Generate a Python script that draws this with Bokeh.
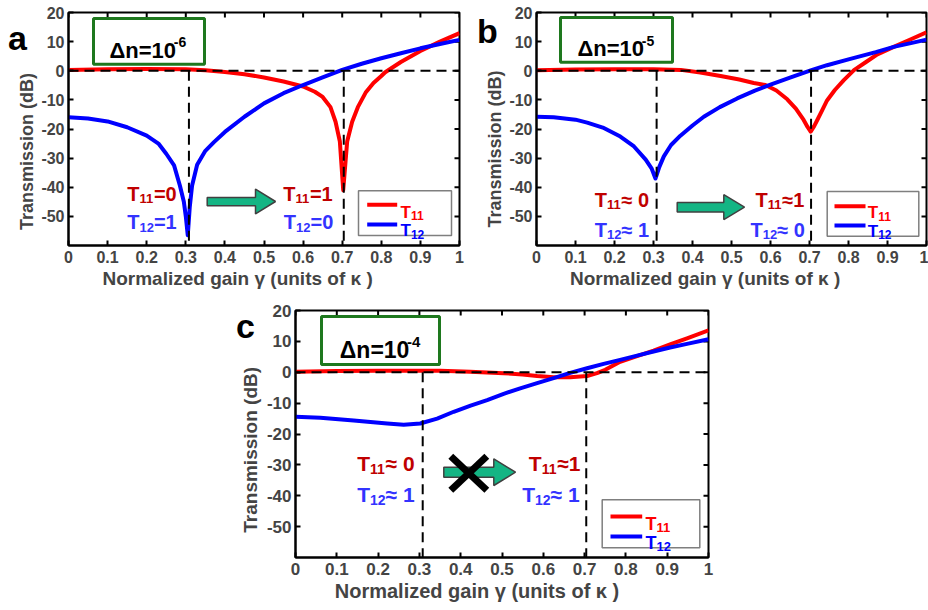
from bokeh.plotting import figure
from bokeh.models import Label, BoxAnnotation, Span, FixedTicker, Range1d, Spacer, Div
from bokeh.layouts import row, column
from bokeh.embed import file_html
from bokeh.resources import INLINE

FONT = "Liberation Sans"

# ------------------------------------------------------------------ data
x_ticks = [0.0, 0.1, 0.2, 0.3, 0.4, 0.5, 0.6, 0.7, 0.8, 0.9, 1.0]
x_tick_labels = ["0", "0.1", "0.2", "0.3", "0.4", "0.5", "0.6", "0.7", "0.8", "0.9", "1"]
y_ticks = [-50, -40, -30, -20, -10, 0, 10, 20]
y_tick_labels = ["-50", "-40", "-30", "-20", "-10", "0", "10", "20"]
marker_gammas = [0.308, 0.704]

# panel a : dn = 1e-6
a_t11_g = [0, 0.1, 0.2, 0.3, 0.35, 0.4, 0.45, 0.5, 0.55, 0.6, 0.63, 0.65, 0.67, 0.683, 0.694,
           0.7026, 0.7127, 0.7255, 0.74, 0.76, 0.78, 0.8, 0.81, 0.85, 0.9, 0.95, 1.0]
a_t11_db = [0.3, 0.5, 0.6, 0.5, 0.2, -0.4, -1.2, -2.3, -3.7, -5.4, -7.2, -9.0, -12.5, -17.5, -24.3,
            -41.0, -24.3, -17.5, -12.5, -7.5, -4.2, -1.8, -0.5, 3.0, 6.8, 10.0, 12.9]
a_t12_g = [0, 0.05, 0.1, 0.15, 0.2, 0.23, 0.25, 0.27, 0.285, 0.295, 0.3, 0.305, 0.31, 0.316,
           0.329, 0.35, 0.372, 0.4, 0.45, 0.5, 0.55, 0.6, 0.65, 0.7, 0.75, 0.8,
           0.85, 0.9, 0.95, 1.0]
a_t12_db = [-16.0, -16.4, -17.4, -19.4, -22.3, -25.0, -28.5, -32.5, -39.5, -45.0, -50.0, -56.5,
            -47.0, -39.5, -32.3, -27.5, -24.5, -21.0, -15.8, -11.2, -7.7, -4.9,
            -2.3, 0.3, 2.4, 4.3, 6.0, 7.7, 9.2, 10.6]

# panel b : dn = 1e-5
b_t11_g = [0, 0.1, 0.2, 0.3, 0.37, 0.42, 0.472, 0.52, 0.557, 0.587, 0.615, 0.643, 0.665, 0.685,
           0.695, 0.703, 0.712, 0.72, 0.733, 0.745, 0.765, 0.788, 0.814, 0.845, 0.874, 0.916,
           0.96, 1.0]
b_t11_db = [0.2, 0.4, 0.5, 0.5, 0.3, -0.6, -1.8, -3.0, -4.2, -4.9, -6.8, -9.8, -13.0, -16.9,
            -19.3, -20.9, -19.0, -16.9, -13.4, -10.2, -6.6, -3.2, 0.2, 3.0, 5.6, 8.2, 10.8, 13.2]
b_t12_g = [0, 0.044, 0.1, 0.13, 0.17, 0.215, 0.25, 0.28, 0.295, 0.305, 0.315, 0.3265, 0.345,
           0.369, 0.4, 0.429, 0.47, 0.5146, 0.56, 0.6, 0.65, 0.703, 0.745, 0.8, 0.87, 0.916,
           0.96, 1.0]
b_t12_db = [-15.8, -16.0, -16.8, -17.8, -19.5, -22.6, -26.0, -30.5, -33.5, -37.0, -33.0, -29.4,
            -25.5, -22.3, -18.8, -15.8, -12.5, -9.5, -6.8, -4.8, -2.4, 0.1, 1.9, 3.9, 6.4, 8.2,
            9.5, 10.7]

# panel c : dn = 1e-4
c_t11_g = [0, 0.1, 0.2, 0.3, 0.35, 0.423, 0.504, 0.55, 0.585, 0.625, 0.665, 0.706, 0.73, 0.75,
           0.786, 0.827, 0.867, 0.907, 0.948, 1.0]
c_t11_db = [0.2, 0.4, 0.5, 0.5, 0.5, 0.2, -0.3, -0.7, -1.2, -1.6, -1.6, -1.2, -0.3, 0.8, 3.4,
            5.2, 7.0, 9.0, 11.0, 13.6]
c_t12_g = [0, 0.06, 0.141, 0.222, 0.262, 0.302, 0.343, 0.383, 0.424, 0.464, 0.504, 0.544, 0.585,
           0.625, 0.665, 0.706, 0.746, 0.786, 0.827, 0.867, 0.907, 0.948, 1.0]
c_t12_db = [-14.4, -14.7, -15.6, -16.6, -17.0, -16.6, -15.0, -12.8, -10.8, -9.0, -7.0, -5.2,
            -3.5, -1.9, -0.2, 1.3, 2.7, 4.0, 5.4, 6.7, 8.0, 9.2, 10.7]

X_LABEL = "Normalized gain \u03b3 (units of \u03ba )"
Y_LABEL = "Transmission (dB)"

X0, X1, Y0, Y1 = 0.0, 1.0, -60.0, 20.0

RED, BLUE = "#FF0000", "#0000FF"
RED_TXT, BLUE_TXT = "#C00000", "#3333FF"
GREEN_BOX = "#1E781E"
ARROW_FILL = "#14B584"
NBSP = "\u00a0"

# page-pixel geometry of each panel: figure origin, figure size, frame box
GEOM = {
    "a": dict(origin=(0, 0), size=(470, 300), frame=(68, 11, 391, 234)),
    "b": dict(origin=(470, 0), size=(458, 300), frame=(536, 12, 390, 234)),
    "c": dict(origin=(220, 300), size=(500, 310), frame=(295, 310, 413, 247)),
}

WID = {"T": 0.611, "0": 0.556, "1": 0.556, "2": 0.556, "4": 0.556, "5": 0.556, "6": 0.556,
       "=": 0.584, "\u2248": 0.584, " ": 0.278, "-": 0.333, "\u0394": 0.612, "n": 0.611}


def tw(s, size):
    return sum(WID.get(ch, 0.556) for ch in s) * size


def conv(g, px, py):
    fl, ft, fw, fh = g["frame"]
    return X0 + (px - fl) / fw * (X1 - X0), Y1 - (py - ft) / fh * (Y1 - Y0)


def label(p, g, px, py, text, size, color):
    x, y = conv(g, px, py)
    p.add_layout(Label(x=x, y=y, text=text, text_font=FONT, text_font_style="bold",
                       text_font_size=f"{size}px", text_color=color, text_align="left",
                       text_baseline="alphabetic"))


def sub_text(p, g, px, py, main, sub, rest, size, subsize, color, drop):
    label(p, g, px, py, main, size, color)
    x2 = px + tw(main, size)
    label(p, g, x2, py + drop, sub, subsize, color)
    if rest:
        label(p, g, x2 + tw(sub, subsize), py, rest, size, color)


def shifted(text, shift_px, size_px):
    # pad with trailing no-break spaces so the centred label sits shift_px off centre
    n = int(round(2 * shift_px / (0.278 * size_px)))
    return text + NBSP * n


def style_axis(ax, ticks, labels, fs):
    ax.ticker = FixedTicker(ticks=ticks)
    ax.major_label_overrides = {t: l for t, l in zip(ticks, labels)}
    ax.minor_tick_line_color = None
    ax.major_tick_in = 5
    ax.major_tick_out = 0
    ax.major_tick_line_width = 2
    ax.axis_line_width = 2
    ax.major_label_text_font = FONT
    ax.major_label_text_font_style = "bold"
    ax.major_label_text_font_size = fs


def make_panel(key, t11g, t11d, t12g, t12d, fs_tick, fs_xlab, fs_ylab, ylab_standoff,
               xshift, yshift, fs_txt, fs_sub, texts, legend, box, dn_text, dn_sup, dn_pos,
               arrow):
    g = GEOM[key]
    ox, oy = g["origin"]
    W, H = g["size"]
    fl, ft, fw, fh = g["frame"]
    p = figure(width=W, height=H, x_range=Range1d(X0, X1), y_range=Range1d(Y0, Y1),
               output_backend="svg", toolbar_location=None,
               min_border_left=fl - ox, min_border_top=ft - oy,
               min_border_right=W - (fl - ox) - fw, min_border_bottom=H - (ft - oy) - fh)
    p.xgrid.visible = False
    p.ygrid.visible = False
    p.outline_line_color = "black"
    p.outline_line_width = 2
    p.background_fill_color = "white"
    p.border_fill_color = "white"

    style_axis(p.xaxis[0], x_ticks, x_tick_labels, fs_tick)
    style_axis(p.yaxis[0], y_ticks, y_tick_labels, fs_tick)
    p.xaxis[0].major_label_standoff = 5
    p.yaxis[0].major_label_standoff = 4
    p.xaxis[0].axis_label = shifted(X_LABEL, xshift, fs_xlab)
    p.yaxis[0].axis_label = shifted(Y_LABEL, yshift, fs_ylab)
    for ax, fs in ((p.xaxis[0], fs_xlab), (p.yaxis[0], fs_ylab)):
        ax.axis_label_text_font = FONT
        ax.axis_label_text_font_style = "bold"
        ax.axis_label_text_font_size = f"{fs}px"
    p.xaxis[0].axis_label_standoff = 2
    p.yaxis[0].axis_label_standoff = ylab_standoff

    # inward ticks on the top and right sides of the box
    tlen_y = 5.0 / fh * (Y1 - Y0)
    tlen_x = 5.0 / fw * (X1 - X0)
    p.segment(x0=x_ticks, y0=[Y1] * len(x_ticks), x1=x_ticks, y1=[Y1 - tlen_y] * len(x_ticks),
              line_color="black", line_width=2)
    p.segment(x0=[X1] * len(y_ticks), y0=y_ticks, x1=[X1 - tlen_x] * len(y_ticks), y1=y_ticks,
              line_color="black", line_width=2)

    # curves
    p.line(t11g, t11d, line_color=RED, line_width=4, line_join="round")
    p.line(t12g, t12d, line_color=BLUE, line_width=4, line_join="round")

    # guide lines
    p.add_layout(Span(location=0, dimension="width", line_color="black", line_width=2,
                      line_dash="10 6"))
    p.segment(x0=marker_gammas, y0=[0, 0], x1=marker_gammas, y1=[Y0, Y0], line_color="black",
              line_width=2, line_dash="10 6")

    # dn box
    (bl, bt, br, bb) = box
    xl, yt = conv(g, bl, bt)
    xr, yb = conv(g, br, bb)
    p.add_layout(BoxAnnotation(left=xl, right=xr, top=yt, bottom=yb, fill_alpha=0,
                               line_color=GREEN_BOX, line_alpha=1.0, line_width=3))
    dx, dy, dfs, dsfs = dn_pos
    label(p, g, dx, dy, dn_text, dfs, "black")
    label(p, g, dx + tw(dn_text, dfs), dy - 0.36 * dfs, dn_sup, dsfs, "black")

    # state texts
    for (tx, ty, sub, rest, col) in texts:
        sub_text(p, g, tx, ty, "T", sub, rest, fs_txt, fs_sub, col, 5)

    # legend
    (lb, lx0, lx1, ly_r, ly_b, ltx, lty_r, lty_b, lfs, lsfs) = legend
    xl, yt = conv(g, lb[0], lb[1])
    xr, yb = conv(g, lb[2], lb[3])
    p.add_layout(BoxAnnotation(left=xl, right=xr, top=yt, bottom=yb, fill_alpha=0,
                               line_color="#7F7F7F", line_alpha=1.0, line_width=1.5))
    for ly, col in ((ly_r, RED), (ly_b, BLUE)):
        a0, b0 = conv(g, lx0, ly)
        a1, _ = conv(g, lx1, ly)
        p.segment(x0=[a0], y0=[b0], x1=[a1], y1=[b0], line_color=col, line_width=4)
    sub_text(p, g, ltx, lty_r, "T", "11", "", lfs, lsfs, RED, 3.5)
    sub_text(p, g, ltx, lty_b, "T", "12", "", lfs, lsfs, BLUE, 3.5)

    # block arrow
    (s0, s1, st, sb, ht, hb, tip) = arrow
    pts = [(s0, st), (s1, st), (s1, ht), (tip, (ht + hb) / 2), (s1, hb), (s1, sb), (s0, sb)]
    cx = [conv(g, a, b)[0] for a, b in pts]
    cy = [conv(g, a, b)[1] for a, b in pts]
    p.patch(cx, cy, fill_color=ARROW_FILL, line_color="#404040", line_width=1.5)
    return p, g


pa, ga = make_panel(
    "a", a_t11_g, a_t11_db, a_t12_g, a_t12_db, "16px", 19, 18, 1, 26, 22, 20, 13,
    [(126.7, 193.3, "11", "=0", RED_TXT), (126.7, 221.7, "12", "=1", BLUE_TXT),
     (282.7, 193.3, "11", "=1", RED_TXT), (283.3, 221.7, "12", "=0", BLUE_TXT)],
    ((358, 190, 451, 235), 366.7, 396.7, 204, 224, 400, 211.7, 230, 17, 12),
    (93, 17, 204, 63), "\u0394n=10", "-6", (109, 49, 22, 14),
    (206.7, 255, 196.7, 205, 188.3, 213.3, 275))

pb, gb = make_panel(
    "b", b_t11_g, b_t11_db, b_t12_g, b_t12_db, "16px", 19, 18, 1, 26, 20, 20, 13,
    [(594.3, 200, "11", "\u2248 0", RED_TXT), (594.3, 230, "12", "\u2248 1", BLUE_TXT),
     (755, 200, "11", "\u22481", RED_TXT), (750, 230, "12", "\u2248 0", BLUE_TXT)],
    ((826.7, 191.7, 918.3, 236.7), 834, 865, 206.7, 226, 867.3, 213.3, 231.7, 17, 12),
    (560, 17, 672, 62), "\u0394n=10", "-5", (577, 48.3, 22, 14),
    (676.7, 723.3, 202.7, 212.3, 195, 220, 744))

pc, gc = make_panel(
    "c", c_t11_g, c_t11_db, c_t12_g, c_t12_db, "17px", 20, 19, 3, 26, 15, 21, 14,
    [(356.7, 463.3, "11", "\u2248 0", RED_TXT), (356.7, 494, "12", "\u2248 1", BLUE_TXT),
     (528.3, 463.3, "11", "\u22481", RED_TXT), (521.7, 494, "12", "\u2248 1", BLUE_TXT)],
    ((601.7, 499.3, 699.3, 547.3), 610, 641.7, 516, 536, 645, 523.3, 542.7, 18, 13),
    (321, 316, 439, 364), "\u0394n=10", "-4", (339.3, 349.3, 23, 15),
    (443.3, 493.3, 466.7, 476.7, 458.3, 485, 515))

# cross over the arrow in panel c
xa0, ya0 = conv(gc, 450.3, 455.7)
xa1, ya1 = conv(gc, 486.3, 489.7)
xb0, yb0 = conv(gc, 450.3, 489.7)
xb1, yb1 = conv(gc, 486.3, 455.7)
pc.segment(x0=[xa0, xb0], y0=[ya0, yb0], x1=[xa1, xb1], y1=[ya1, yb1], line_color="black",
           line_width=7)


def letter_div(ch, left, baseline):
    return Div(text=ch, styles={"position": "absolute", "left": f"{left}px",
                                "top": f"{baseline - 29}px", "font-family": FONT,
                                "font-weight": "bold", "font-size": "34px",
                                "line-height": "34px", "margin": "0", "padding": "0",
                                "color": "black"})


layout = column(row(pa, pb), row(Spacer(width=220, height=310), pc),
                letter_div("a", 8, 50), letter_div("b", 477, 43), letter_div("c", 236, 338))

open("out.html", "w").write(file_html(layout, INLINE))
